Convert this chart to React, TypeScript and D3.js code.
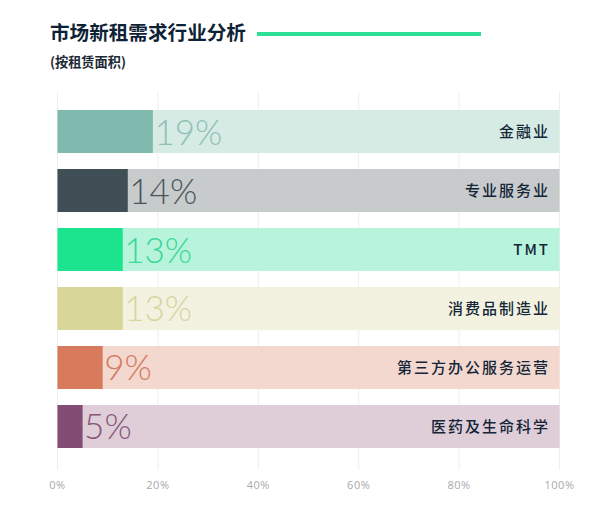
import React from "react";
import * as d3 from "d3";

const categories = ["金融业", "专业服务业", "TMT", "消费品制造业", "第三方办公服务运营", "医药及生命科学"];
const values = [19, 14, 13, 13, 9, 5];
const solidColors = ["#80b9ad", "#404f55", "#1ce48e", "#d8d699", "#d77b5c", "#824c73"];
const bgColors = ["#d7ebe5", "#c8cbcb", "#b7f4db", "#f3f2e1", "#f3d8cf", "#dfcdd8"];
const labelColors = ["#8fc0b5", "#4a5559", "#3ad797", "#d7d5a0", "#d5795c", "#85567a"];
const ticks = [0, 20, 40, 60, 80, 100];

const W = 607;
const H = 511;

export default function App() {
  const x = d3.scaleLinear().domain([0, 100]).range([57.5, 559.5]);
  const y = d3.scaleBand<string>().domain(categories).range([110, 448]).paddingInner(0.271).paddingOuter(0);
  const bh = y.bandwidth();
  return (
    <svg width={W} height={H} style={{ position: "absolute", left: 0, top: 0, background: "#fff" }}>
      <rect x={0} y={0} width={W} height={H} fill="#fff" />
      <text x={50} y={40} fontFamily="'Noto Sans CJK SC', sans-serif" fontWeight={700} fontSize={19.6} fill="#0e2235">
        市场新租需求行业分析
      </text>
      <line x1={257} x2={481} y1={34} y2={34} stroke="#2ce196" strokeWidth={3.8} />
      <text x={50} y={67} fontFamily="'Noto Sans CJK SC', sans-serif" fontWeight={700} fontSize={13.2} fill="#1d2a36">
        (按租赁面积)
      </text>
      {ticks.map((t) => (
        <line key={"g" + t} x1={x(t)} x2={x(t)} y1={92} y2={470} stroke="#eeeeee" strokeWidth={1} />
      ))}
      {categories.map((c, i) => {
        const yy = y(c)!;
        return (
          <g key={c}>
            <rect x={x(0)} y={yy} width={x(100) - x(0)} height={bh} fill={bgColors[i]} />
            <rect x={x(0)} y={yy} width={x(values[i]) - x(0)} height={bh} fill={solidColors[i]} />
            <text
              x={x(values[i]) + 1.5}
              y={yy + bh / 2 + 13}
              fontFamily="Lato, 'Open Sans', sans-serif"
              fontWeight={300}
              fontSize={35}
              fill={labelColors[i]}
            >
              {values[i]}%
            </text>
            <text
              x={550}
              y={yy + bh / 2 + 5.5}
              textAnchor="end"
              fontFamily="'Noto Sans CJK SC', sans-serif"
              fontWeight={500}
              fontSize={15}
              letterSpacing={2}
              fill="#142638"
            >
              {c}
            </text>
          </g>
        );
      })}
      {ticks.map((t) => (
        <text
          key={"t" + t}
          x={x(t)}
          y={489}
          textAnchor="middle"
          fontFamily="'Open Sans', sans-serif"
          fontSize={11}
          letterSpacing={0.5}
          fill="#a9a9a9"
        >
          {t}%
        </text>
      ))}
    </svg>
  );
}
